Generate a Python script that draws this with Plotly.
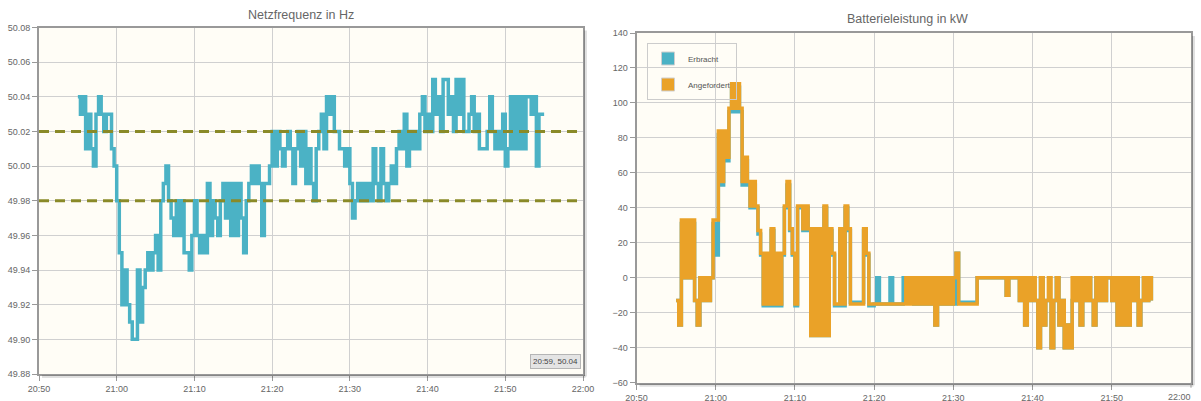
import pandas as pd
import plotly.graph_objects as go

# ---------------- data ----------------
time_start = "2020-01-01 20:55:00"
time_end = "2020-01-01 21:55:00"
times = pd.date_range(time_start, time_end, freq="20s")

netzfrequenz = [
    50.04, 50.03, 50.04,  50.01, 50.03, 50.01,  50.00, 50.03, 50.04,  50.03, 50.02, 50.03,
    50.03, 50.01, 50.00,  49.98, 49.95, 49.92,  49.94, 49.92, 49.91,  49.90, 49.90, 49.94,
    49.91, 49.93, 49.94,  49.95, 49.94, 49.95,  49.96, 49.94, 49.98,  49.99, 50.00, 49.98,
    49.97, 49.96, 49.98,  49.96, 49.98, 49.95,  49.95, 49.94, 49.96,  49.98, 49.96, 49.95,
    49.96, 49.95, 49.99,  49.96, 49.98, 49.97,  49.96, 49.98, 49.99,  49.97, 49.99, 49.96,
    49.99, 49.96, 49.99,  49.97, 49.95, 49.98,  49.99, 50.00, 49.99,  50.00, 49.99, 49.96,
    49.99, 49.99, 50.00,  50.02, 50.00, 50.02,  50.01, 50.00, 50.01,  50.02, 50.01, 49.99,
    50.01, 50.02, 50.00,  50.02, 49.99, 50.01,  49.99, 49.98, 50.01,  50.02, 50.03, 50.01,
    50.04, 50.03, 50.04,  50.02, 50.02, 50.01,  50.01, 50.00, 50.01,  49.99, 49.97, 49.98,
    49.99, 49.98, 49.99,  49.98, 49.99, 49.98,  50.01, 49.99, 49.98,  50.01, 49.99, 49.98,
    49.99, 50.00, 49.99,  50.01, 50.02, 50.01,  50.03, 50.00, 50.02,  50.01, 50.02, 50.01,
    50.03, 50.04, 50.02,  50.03, 50.02, 50.05,  50.03, 50.04, 50.02,  50.05, 50.05, 50.03,
    50.04, 50.02, 50.05,  50.03, 50.05, 50.02,  50.02, 50.03, 50.04,  50.02, 50.03, 50.01,
    50.01, 50.01, 50.02,  50.04, 50.02, 50.01,  50.02, 50.01, 50.03,  50.00, 50.01, 50.04,
    50.01, 50.04, 50.01,  50.04, 50.01, 50.04,  50.04, 50.03, 50.04,  50.00, 50.03, 50.03,
    50.03,
]

grenzwerte = [50.02, 49.98]

angefordert = [
    -13, -27, 33,   0, 33, 0,   33, -13, -27,   0, -13, 0,   -13, 0, 33,
    33, 84, 55,   84, 69, 97,   111, 97, 111,   97, 55, 69,   55, 41, 55,
    41, 27, 14,   -15, 14, -15,   28, -15, 14,   -15, 14, 41,   55, 28, 14,
    -15, 41, 41,   28, 41, 28,   -33, 28, -33,   28, -33, 41,   -33, 28, 14,
    -15, -15, 28,   -15, 41, 28,   -15, -15, -15,   -15, -15, 28,   14, -15, -15,
    -15, -15, -15,   -15, -15, -15,   -15, -15, -15,   -15, -15, -15,   0, -15, 0,
    -15, 0, -15,   0, -15, 0,   -15, 0, -27,   0, -15, 0,   -15, 0, -15,
    0, 14, -15,   -15, -15, -15,   -15, -15, -15,   0, 0, 0,   0, 0, 0,
    0, 0, 0,   0, 0, -10,   0, 0, 0,   0, -13, 0,   -27, 0, -13,
    0, -13, -40,   0, -27, -13,   0, -40, -13,   0, -27, -13,   -40, -27, -40,
    0, -13, 0,   -27, 0, -13,   0, -13, -27,   0, -13, 0,   -13, 0, 0,
    -13, 0, -27,   0, -27, 0,   -27, 0, -13,   0, -27, -13,   0, -13, 0,
    -13,
]

erbracht = [
    -13, -27, 31,   0, 31, 0,   31, -13, -27,   0, -13, 0,   -13, 0, 31,
    13, 82, 53,   82, 67, 95,   109, 95, 109,   95, 53, 67,   53, 40, 53,
    40, 25, 13,   -16, 13, -16,   27, -16, 13,   -16, 13, 40,   53, 27, 13,
    -16, 40, 40,   27, 40, 27,   -33, 27, -33,   27, -33, 40,   -33, 27, 13,
    -16, -16, 27,   -16, 40, 27,   -14, -14, -14,   -14, -14, 27,   13, -16, -16,
    -15, 0, -15,   -15, -15, -15,   0, -15, -15,   -15, -15, 0,   0, 0, 0,
    -15, 0, -15,   0, -15, 0,   -15, 0, -27,   0, -15, 0,   -15, -15, -15,
    -15, 14, -14,   -14, -14, -14,   -14, -14, -14,   0, 0, 0,   0, 0, 0,
    0, 0, 0,   0, 0, -10,   0, 0, 0,   0, -13, -13,   -27, 0, -13,
    -13, -13, -40,   0, -27, -13,   -13, -40, -13,   0, -27, -13,   -40, -27, -40,
    -13, -13, 0,   -27, 0, -13,   0, -13, -27,   0, -13, -13,   -13, 0, 0,
    -13, -13, -27,   0, -27, 0,   -27, 0, -13,   0, -27, -13,   0, -13, 0,
    -13,
]

titel_links = "Netzfrequenz in Hz"
titel_rechts = "Batterieleistung in kW"
legende = ["Erbracht", "Angefordert"]
tooltip_text = "20:59, 50.04"

x_range = ["2020-01-01 20:50:00", "2020-01-01 22:00:00"]
tick_zeiten = pd.date_range(x_range[0], x_range[1], freq="10min")
tick_texte = ["20:50", "21:00", "21:10", "21:20", "21:30", "21:40", "21:50", "22:00"]
y_range_links = [49.88, 50.08]
y_range_rechts = [-60, 140]

# ---------------- style ----------------
W, H = 1201, 401
TEAL = "#4bb2c5"
ORANGE = "#eaa228"
OLIVE = "#8a8a28"
BG = "#fffdf6"
GRID = "#d0d0d0"
BORDER = "#999999"
TXT = "#666666"
FONT = "Liberation Sans Narrow, Liberation Sans, Arial, sans-serif"

L = dict(x0=39, x1=583, y0=27.5, y1=374)
R = dict(x0=636.5, x1=1191, y0=33, y1=382.7)


def px_x(p):
    return p / W


def px_y(p):
    return 1 - p / H


fig = go.Figure()

# left chart
fig.add_trace(go.Scatter(
    x=times, y=netzfrequenz, xaxis="x", yaxis="y", mode="lines",
    line=dict(color=TEAL, width=3.5, shape="hv"), showlegend=False,
))

# right chart
fig.add_trace(go.Scatter(
    x=times, y=erbracht, xaxis="x2", yaxis="y2", mode="lines",
    line=dict(color=TEAL, width=3.5, shape="hv"), showlegend=False,
))
fig.add_trace(go.Scatter(
    x=times, y=angefordert, xaxis="x2", yaxis="y2", mode="lines",
    line=dict(color=ORANGE, width=3.5, shape="hv"), showlegend=False,
))

# legend swatches
for i, (name, col) in enumerate(zip(legende, [TEAL, ORANGE])):
    fig.add_trace(go.Scatter(
        x=[None], y=[None], xaxis="x2", yaxis="y2", mode="markers", name=name,
        legendgroup=f"g{i}",
        marker=dict(symbol="square", size=13, color=col, line=dict(color="#cfcfcf", width=1)),
    ))

axis_common = dict(
    showgrid=True, gridcolor=GRID, gridwidth=1,
    showline=True, linecolor=BORDER, linewidth=2, mirror=True,
    ticks="outside", ticklen=5, tickcolor=BORDER, tickwidth=1,
    tickfont=dict(family=FONT, size=9, color=TXT),
    zeroline=False, fixedrange=True, automargin=False,
)

fig.update_layout(
    width=W, height=H,
    margin=dict(l=0, r=0, t=0, b=0, autoexpand=False),
    paper_bgcolor="white",
    plot_bgcolor=BG,
    font=dict(family=FONT, color=TXT),
    xaxis=dict(domain=[px_x(L["x0"]), px_x(L["x1"])], range=x_range, type="date",
               tickmode="array", tickvals=list(tick_zeiten), ticktext=tick_texte,
               anchor="y", ticklabeloverflow="allow", **axis_common),
    yaxis=dict(domain=[px_y(L["y1"]), px_y(L["y0"])], range=y_range_links,
               dtick=0.02, tickformat=".2f", anchor="x", **axis_common),
    xaxis2=dict(domain=[px_x(R["x0"]), px_x(R["x1"])], range=x_range, type="date",
                tickmode="array", tickvals=list(tick_zeiten[:-1]), ticktext=tick_texte[:-1],
                anchor="y2", ticklabeloverflow="allow", **axis_common),
    yaxis2=dict(domain=[px_y(R["y1"]), px_y(R["y0"])], range=y_range_rechts,
                dtick=20, anchor="x2", **axis_common),
    legend=dict(
        x=px_x(647), y=px_y(43), xanchor="left", yanchor="top",
        bgcolor="rgba(0,0,0,0)", bordercolor="#cccccc", borderwidth=1,
        font=dict(family=FONT, size=8, color="#555555"),
        traceorder="grouped", tracegroupgap=7, itemsizing="trace",
    ),
    showlegend=True,
)

# dashed limit lines
for g in grenzwerte:
    fig.add_shape(type="line", xref="x domain", yref="y", x0=0, x1=1, y0=g, y1=g,
                  line=dict(color=OLIVE, width=3, dash="10px,6px"))

# plot border shadows
for box in (L, R):
    fig.add_shape(type="line", xref="paper", yref="paper",
                  x0=px_x(box["x1"] + 2.5), x1=px_x(box["x1"] + 2.5),
                  y0=px_y(box["y0"] + 3), y1=px_y(box["y1"] + 2.5),
                  line=dict(color="rgba(0,0,0,0.12)", width=3))
    fig.add_shape(type="line", xref="paper", yref="paper",
                  x0=px_x(box["x0"] + 3), x1=px_x(box["x1"] + 2.5),
                  y0=px_y(box["y1"] + 2.5), y1=px_y(box["y1"] + 2.5),
                  line=dict(color="rgba(0,0,0,0.12)", width=3))

# tick mark at the last tick of the right chart
fig.add_shape(type="line", xref="x2 domain", yref="paper", x0=1, x1=1,
              y0=px_y(R["y1"]), y1=px_y(R["y1"] + 5), line=dict(color=BORDER, width=1))

# titles
fig.add_annotation(text=titel_links, xref="paper", yref="paper", x=px_x(301), y=px_y(15),
                   xanchor="center", yanchor="middle", showarrow=False,
                   font=dict(family="Liberation Sans, Arial, sans-serif", size=12.5, color=TXT))
fig.add_annotation(text=titel_rechts, xref="paper", yref="paper", x=px_x(907), y=px_y(19),
                   xanchor="center", yanchor="middle", showarrow=False,
                   font=dict(family="Liberation Sans, Arial, sans-serif", size=12.5, color=TXT))

# last tick label of the right chart (kept inside the page edge)
fig.add_annotation(text=tick_texte[-1], xref="x2 domain", yref="paper", x=1, y=px_y(397),
                   xanchor="right", yanchor="middle", xshift=2, showarrow=False,
                   font=dict(family=FONT, size=9, color=TXT))

# tooltip box
fig.add_annotation(text=tooltip_text, xref="paper", yref="paper", x=px_x(555), y=px_y(361),
                   xanchor="center", yanchor="middle", showarrow=False,
                   font=dict(family=FONT, size=8, color="#444444"),
                   bgcolor="#e4e4e4", bordercolor="#b5b5b5", borderwidth=1, borderpad=2)

fig.write_html(
    "out.html",
    config={"displayModeBar": False},
    post_script="document.body.style.margin='0';document.body.style.overflow='hidden';",
)
